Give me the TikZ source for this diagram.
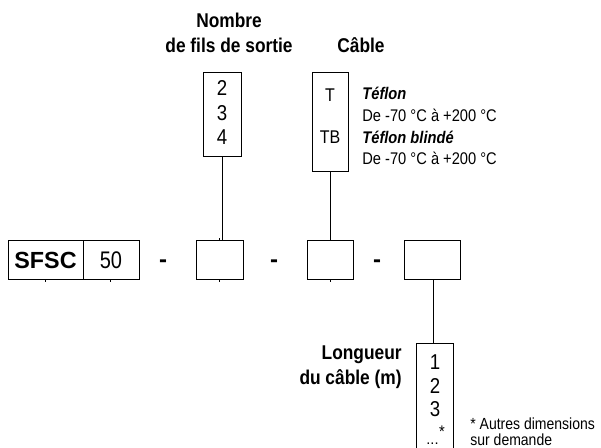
\documentclass[tikz,border=0pt]{standalone}
\usepackage{fontspec}
\setmainfont{Liberation Sans}
\usepackage{graphicx}
\usepackage{tikz}
\newcommand{\tall}[1]{\scalebox{1}[1.15]{#1}}
\tikzset{
	codebox/.style 2 args={draw,line width=0.6pt,inner sep=0pt,minimum width=#1*0.75pt,minimum height=#2*0.75pt},
	head/.style={inner sep=0pt,align=center,font=\fontsize{13}{15}\selectfont\bfseries},
	txt/.style={inner sep=0pt,anchor=west,font=\fontsize{11}{13}\selectfont},
	digit/.style={inner sep=0pt,font=\fontsize{14}{16}\selectfont},
	sep/.style={inner sep=0pt,anchor=base,font=\fontsize{18}{20}\selectfont\bfseries},
	notch/.style={line width=0.5pt}
}
\begin{document}
\begin{tikzpicture}[x=0.75pt,y=-0.75pt,line width=0.6pt]
					\clip (0,0) rectangle (601,448);

					\node [head] (nb1) at (229,20) {\tall{Nombre}};
					\node [head] (nb2) at (229,45) {\tall{de fils de sortie}};
					\node [head] (cab) at (361,45) {\tall{Câble}};

					\node [codebox={38}{84}] (upA) at (222,114) {};
					\node [digit] (n2) at (222,88) {\tall{2}};
					\node [digit] (n3) at (222,113) {\tall{3}};
					\node [digit] (n4) at (222,137) {\tall{4}};

					\node [codebox={36}{99}] (upB) at (330,121.5) {};
					\node [digit,font=\fontsize{12}{14}\selectfont] (tT) at (330,95) {\tall{T}};
					\node [digit,font=\fontsize{12}{14}\selectfont] (tTB) at (330,137) {\tall{TB}};
					\node [txt,font=\fontsize{11}{13}\selectfont\bfseries\itshape] (tef1) at (362,93) {\tall{Téflon}};
					\node [txt] (tmp1) at (362,115) {\tall{De -70 °C à +200 °C}};
					\node [txt,font=\fontsize{11}{13}\selectfont\bfseries\itshape] (tef2) at (362,137) {\tall{Téflon blindé}};
					\node [txt] (tmp2) at (362,158) {\tall{De -70 °C à +200 °C}};

					\node [codebox={75}{39},font=\fontsize{17.5}{20}\selectfont\bfseries] (sfsc) at (45.5,260) {SFSC};
					\node [codebox={56}{39},font=\fontsize{15}{17}\selectfont] (fifty) at (111,260) {\scalebox{1}[1.2]{50}};
					\node [sep] (s1) at (163,268) {-};
					\node [codebox={47}{39}] (boxA) at (219.5,260) {};
					\node [sep] (s2) at (274,268) {-};
					\node [codebox={46}{39}] (boxB) at (330,260) {};
					\node [sep] (s3) at (377,268) {-};
					\node [codebox={56}{39}] (boxC) at (432,260) {};

					\node [codebox={37}{120}] (lowC) at (435,403) {};
					\node [head,anchor=east] (lg1) at (402,355) {\tall{Longueur}};
					\node [head,anchor=east] (lg2) at (402,379) {\tall{du câble (m)}};
					\node [digit] (m1) at (435,362) {\tall{1}};
					\node [digit] (m2) at (435,386) {\tall{2}};
					\node [digit] (m3) at (435,409) {\tall{3}};
					\node [sep,font=\fontsize{11}{13}\selectfont] (mdots) at (432.5,445) {...};
					\node [digit,font=\fontsize{11}{13}\selectfont] (mstar) at (442,432) {\tall{*}};
					\node [txt,font=\fontsize{10.5}{12}\selectfont] (note1) at (470,424) {\tall{* Autres dimensions}};
					\node [txt,font=\fontsize{10.5}{12}\selectfont] (note2) at (470,440) {\tall{sur demande}};

					\draw (upA.south) -- (upA.south |- boxA.north);
					\draw (upB.south) -- (boxB.north);
					\draw (boxC.south) ++(1,0) -- (lowC.north -| {433,0});

					\draw [notch] ([yshift=-1.5pt]sfsc.south) -- ++(0,-2);
					\draw [notch] ([xshift=-0.75pt]fifty.south) -- ++(0,2);
					\draw [notch] (boxA.south) -- ++(0,2);
					\draw [notch] (boxA.north) -- ++(0,-2);
					\draw [notch] (boxB.south) -- ++(0,2);
				\end{tikzpicture}
\end{document}
